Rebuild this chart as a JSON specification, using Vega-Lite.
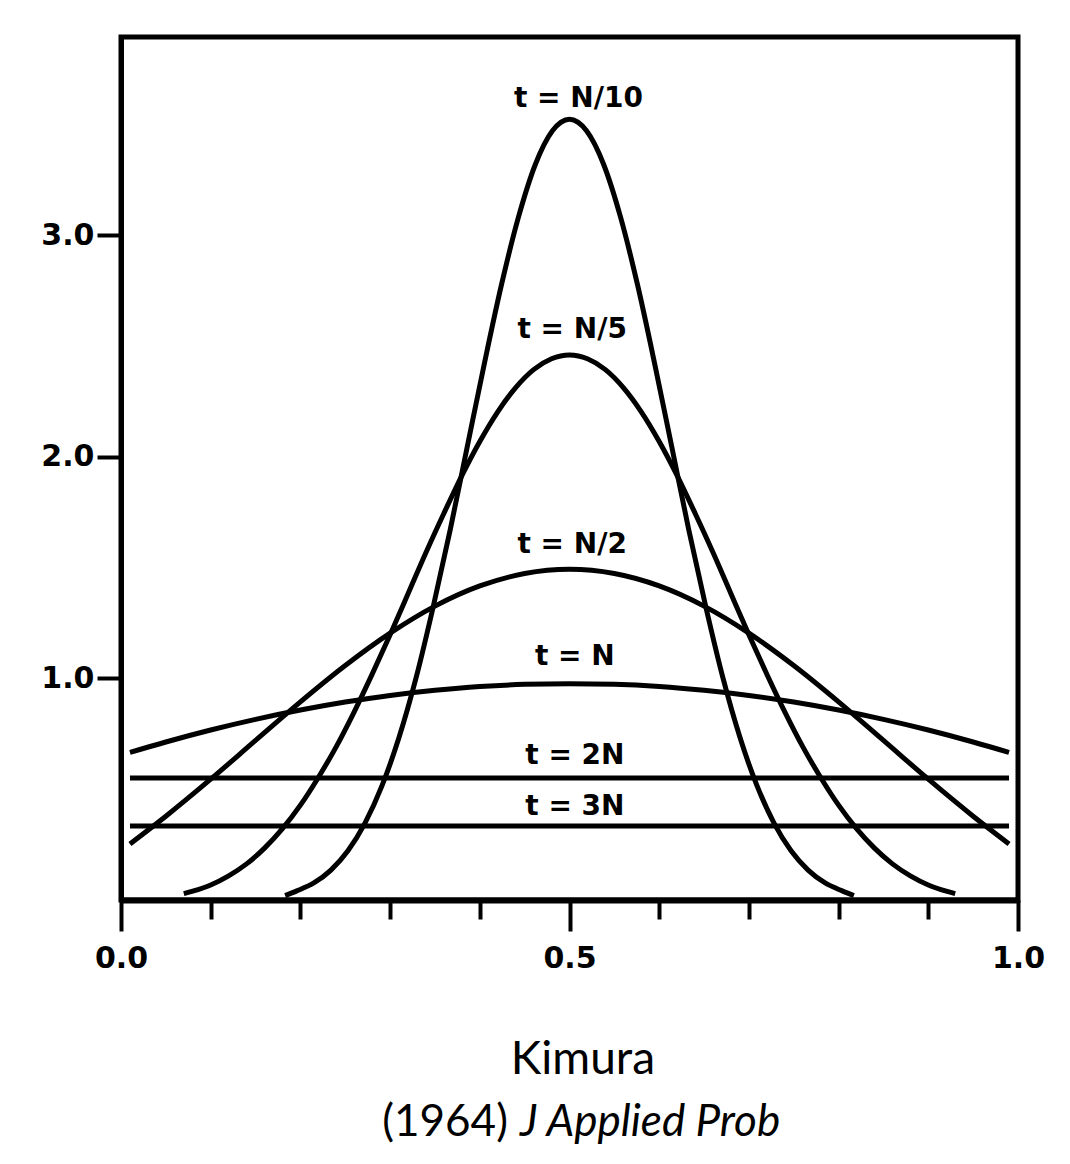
{
  "$schema": "https://vega.github.io/schema/vega-lite/v6.json",
  "width": 897,
  "height": 863,
  "autosize": {"type": "none"},
  "padding": {"left": 121, "top": 37, "right": 52, "bottom": 264},
  "background": "#ffffff",
  "config": {"view": {"stroke": "#000000", "strokeWidth": 5}, "font": "DejaVu Sans"},
  "datasets": {
    "curves": [
      {"t": "N/10", "x": 0.183, "y": 0.02}, {"t": "N/10", "x": 0.196, "y": 0.041}, {"t": "N/10", "x": 0.215, "y": 0.077}, {"t": "N/10", "x": 0.234, "y": 0.135},
      {"t": "N/10", "x": 0.253, "y": 0.222}, {"t": "N/10", "x": 0.272, "y": 0.347}, {"t": "N/10", "x": 0.291, "y": 0.516}, {"t": "N/10", "x": 0.310, "y": 0.734},
      {"t": "N/10", "x": 0.329, "y": 1.003}, {"t": "N/10", "x": 0.348, "y": 1.322}, {"t": "N/10", "x": 0.367, "y": 1.670}, {"t": "N/10", "x": 0.386, "y": 2.045},
      {"t": "N/10", "x": 0.405, "y": 2.419}, {"t": "N/10", "x": 0.424, "y": 2.773}, {"t": "N/10", "x": 0.443, "y": 3.080}, {"t": "N/10", "x": 0.462, "y": 3.320},
      {"t": "N/10", "x": 0.481, "y": 3.471}, {"t": "N/10", "x": 0.500, "y": 3.523},
      {"t": "N/10", "x": 0.519, "y": 3.471}, {"t": "N/10", "x": 0.538, "y": 3.320}, {"t": "N/10", "x": 0.557, "y": 3.080}, {"t": "N/10", "x": 0.576, "y": 2.773},
      {"t": "N/10", "x": 0.595, "y": 2.419}, {"t": "N/10", "x": 0.614, "y": 2.045}, {"t": "N/10", "x": 0.633, "y": 1.670}, {"t": "N/10", "x": 0.652, "y": 1.322},
      {"t": "N/10", "x": 0.671, "y": 1.003}, {"t": "N/10", "x": 0.690, "y": 0.734}, {"t": "N/10", "x": 0.709, "y": 0.516}, {"t": "N/10", "x": 0.728, "y": 0.347},
      {"t": "N/10", "x": 0.747, "y": 0.222}, {"t": "N/10", "x": 0.766, "y": 0.135}, {"t": "N/10", "x": 0.785, "y": 0.077}, {"t": "N/10", "x": 0.804, "y": 0.041},
      {"t": "N/10", "x": 0.817, "y": 0.02},

      {"t": "N/5", "x": 0.07, "y": 0.029}, {"t": "N/5", "x": 0.08, "y": 0.040}, {"t": "N/5", "x": 0.10, "y": 0.068}, {"t": "N/5", "x": 0.12, "y": 0.109},
      {"t": "N/5", "x": 0.14, "y": 0.163}, {"t": "N/5", "x": 0.16, "y": 0.234}, {"t": "N/5", "x": 0.18, "y": 0.322}, {"t": "N/5", "x": 0.20, "y": 0.428},
      {"t": "N/5", "x": 0.22, "y": 0.553}, {"t": "N/5", "x": 0.24, "y": 0.692}, {"t": "N/5", "x": 0.26, "y": 0.849}, {"t": "N/5", "x": 0.28, "y": 1.019},
      {"t": "N/5", "x": 0.30, "y": 1.197}, {"t": "N/5", "x": 0.32, "y": 1.382}, {"t": "N/5", "x": 0.34, "y": 1.568}, {"t": "N/5", "x": 0.36, "y": 1.745},
      {"t": "N/5", "x": 0.38, "y": 1.915}, {"t": "N/5", "x": 0.40, "y": 2.069}, {"t": "N/5", "x": 0.42, "y": 2.203}, {"t": "N/5", "x": 0.44, "y": 2.312},
      {"t": "N/5", "x": 0.46, "y": 2.393}, {"t": "N/5", "x": 0.48, "y": 2.442}, {"t": "N/5", "x": 0.50, "y": 2.459},
      {"t": "N/5", "x": 0.52, "y": 2.442}, {"t": "N/5", "x": 0.54, "y": 2.393}, {"t": "N/5", "x": 0.56, "y": 2.312}, {"t": "N/5", "x": 0.58, "y": 2.203},
      {"t": "N/5", "x": 0.60, "y": 2.069}, {"t": "N/5", "x": 0.62, "y": 1.915}, {"t": "N/5", "x": 0.64, "y": 1.745}, {"t": "N/5", "x": 0.66, "y": 1.568},
      {"t": "N/5", "x": 0.68, "y": 1.382}, {"t": "N/5", "x": 0.70, "y": 1.197}, {"t": "N/5", "x": 0.72, "y": 1.019}, {"t": "N/5", "x": 0.74, "y": 0.849},
      {"t": "N/5", "x": 0.76, "y": 0.692}, {"t": "N/5", "x": 0.78, "y": 0.553}, {"t": "N/5", "x": 0.80, "y": 0.428}, {"t": "N/5", "x": 0.82, "y": 0.322},
      {"t": "N/5", "x": 0.84, "y": 0.234}, {"t": "N/5", "x": 0.86, "y": 0.163}, {"t": "N/5", "x": 0.88, "y": 0.109}, {"t": "N/5", "x": 0.90, "y": 0.068},
      {"t": "N/5", "x": 0.92, "y": 0.040}, {"t": "N/5", "x": 0.93, "y": 0.029},

      {"t": "N/2", "x": 0.01, "y": 0.253}, {"t": "N/2", "x": 0.05, "y": 0.378}, {"t": "N/2", "x": 0.10, "y": 0.545}, {"t": "N/2", "x": 0.15, "y": 0.720},
      {"t": "N/2", "x": 0.20, "y": 0.894}, {"t": "N/2", "x": 0.25, "y": 1.058}, {"t": "N/2", "x": 0.30, "y": 1.204}, {"t": "N/2", "x": 0.35, "y": 1.326},
      {"t": "N/2", "x": 0.40, "y": 1.417}, {"t": "N/2", "x": 0.45, "y": 1.473}, {"t": "N/2", "x": 0.50, "y": 1.492}, {"t": "N/2", "x": 0.55, "y": 1.473},
      {"t": "N/2", "x": 0.60, "y": 1.417}, {"t": "N/2", "x": 0.65, "y": 1.326}, {"t": "N/2", "x": 0.70, "y": 1.204}, {"t": "N/2", "x": 0.75, "y": 1.058},
      {"t": "N/2", "x": 0.80, "y": 0.894}, {"t": "N/2", "x": 0.85, "y": 0.720}, {"t": "N/2", "x": 0.90, "y": 0.545}, {"t": "N/2", "x": 0.95, "y": 0.378},
      {"t": "N/2", "x": 0.99, "y": 0.253},

      {"t": "N", "x": 0.01, "y": 0.666}, {"t": "N", "x": 0.05, "y": 0.713}, {"t": "N", "x": 0.10, "y": 0.767}, {"t": "N", "x": 0.15, "y": 0.815},
      {"t": "N", "x": 0.20, "y": 0.857}, {"t": "N", "x": 0.25, "y": 0.893}, {"t": "N", "x": 0.30, "y": 0.923}, {"t": "N", "x": 0.35, "y": 0.946},
      {"t": "N", "x": 0.40, "y": 0.963}, {"t": "N", "x": 0.45, "y": 0.973}, {"t": "N", "x": 0.50, "y": 0.976}, {"t": "N", "x": 0.55, "y": 0.973},
      {"t": "N", "x": 0.60, "y": 0.963}, {"t": "N", "x": 0.65, "y": 0.946}, {"t": "N", "x": 0.70, "y": 0.923}, {"t": "N", "x": 0.75, "y": 0.893},
      {"t": "N", "x": 0.80, "y": 0.857}, {"t": "N", "x": 0.85, "y": 0.815}, {"t": "N", "x": 0.90, "y": 0.767}, {"t": "N", "x": 0.95, "y": 0.713},
      {"t": "N", "x": 0.99, "y": 0.666},

      {"t": "2N", "x": 0.01, "y": 0.55}, {"t": "2N", "x": 0.99, "y": 0.55},
      {"t": "3N", "x": 0.01, "y": 0.334}, {"t": "3N", "x": 0.99, "y": 0.334}
    ],
    "labels": [
      {"label": "t = N/10", "x": 0.51, "y": 3.614},
      {"label": "t = N/5", "x": 0.503, "y": 2.57},
      {"label": "t = N/2", "x": 0.503, "y": 1.60},
      {"label": "t = N", "x": 0.506, "y": 1.096},
      {"label": "t = 2N", "x": 0.506, "y": 0.652},
      {"label": "t = 3N", "x": 0.506, "y": 0.418}
    ]
  },
  "layer": [
    {
      "data": {"name": "curves"},
      "mark": {"type": "line", "color": "#000000", "strokeWidth": 5, "interpolate": "monotone", "clip": false},
      "encoding": {
        "x": {
          "field": "x", "type": "quantitative",
          "scale": {"domain": [0, 1], "nice": false, "zero": false},
          "axis": {
            "title": null, "grid": false,
            "values": [0, 0.1, 0.2, 0.3, 0.4, 0.5, 0.6, 0.7, 0.8, 0.9, 1],
            "domainColor": "#000000", "domainWidth": 6,
            "tickColor": "#000000", "tickWidth": 4,
            "tickSize": {"condition": {"test": "datum.value == 0 || datum.value == 0.5 || datum.value == 1", "value": 31}, "value": 19},
            "labelExpr": "datum.value == 0 || datum.value == 0.5 || datum.value == 1 ? format(datum.value, '.1f') : ''",
            "labelFont": "DejaVu Sans", "labelFontSize": 30, "labelFontWeight": "bold", "labelColor": "#000000", "labelPadding": 12, "labelFlush": false, "labelOverlap": false
          }
        },
        "y": {
          "field": "y", "type": "quantitative",
          "scale": {"domain": [0, 3.894], "nice": false, "zero": true},
          "axis": {
            "title": null, "grid": false,
            "values": [1, 2, 3], "format": ".1f",
            "domainColor": "#000000", "domainWidth": 5,
            "tickColor": "#000000", "tickWidth": 4, "tickSize": 24,
            "labelFont": "DejaVu Sans", "labelFontSize": 30, "labelFontWeight": "bold", "labelColor": "#000000", "labelPadding": 3
          }
        },
        "detail": {"field": "t", "type": "nominal"}
      }
    },
    {
      "data": {"name": "labels"},
      "mark": {"type": "text", "font": "DejaVu Sans", "fontSize": 28, "fontWeight": "bold", "color": "#000000", "baseline": "middle", "align": "center"},
      "encoding": {
        "x": {"field": "x", "type": "quantitative"},
        "y": {"field": "y", "type": "quantitative"},
        "text": {"field": "label"}
      }
    },
    {
      "data": {"values": [{"c": "Kimura"}]},
      "mark": {"type": "text", "font": "Lato", "fontSize": 46, "color": "#000000", "baseline": "alphabetic", "align": "center"},
      "encoding": {
        "x": {"datum": 0.515, "type": "quantitative"},
        "y": {"datum": -0.783, "type": "quantitative"},
        "text": {"field": "c"}
      }
    },
    {
      "data": {"values": [{"c": "(1964)"}]},
      "mark": {"type": "text", "font": "Lato", "fontSize": 44, "color": "#000000", "baseline": "alphabetic", "align": "right", "dx": -6},
      "encoding": {
        "x": {"datum": 0.438, "type": "quantitative"},
        "y": {"datum": -1.063, "type": "quantitative"},
        "text": {"field": "c"}
      }
    },
    {
      "data": {"values": [{"c": "J Applied Prob"}]},
      "mark": {"type": "text", "font": "Lato", "fontSize": 44, "fontStyle": "italic", "color": "#000000", "baseline": "alphabetic", "align": "left", "dx": 6},
      "encoding": {
        "x": {"datum": 0.438, "type": "quantitative"},
        "y": {"datum": -1.063, "type": "quantitative"},
        "text": {"field": "c"}
      }
    }
  ]
}
